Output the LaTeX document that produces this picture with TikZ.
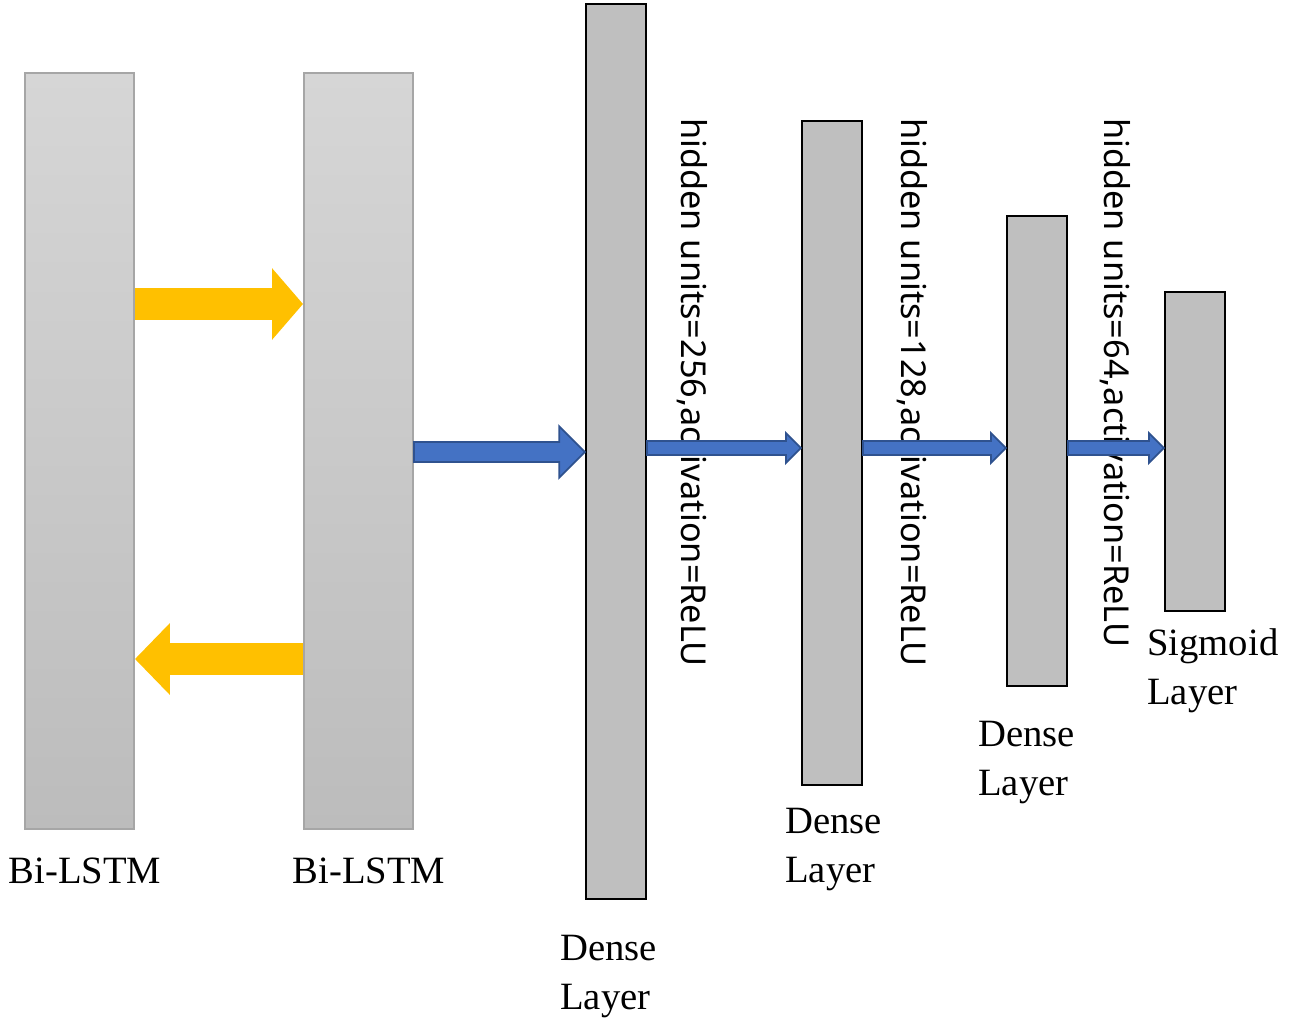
\documentclass[tikz,border=0pt]{standalone}
\usepackage{fontspec}
\setmainfont{Liberation Serif}
\newfontfamily\unitfont{Noto Sans}
\usetikzlibrary{positioning,calc}
\definecolor{lstmtop}{HTML}{D6D6D6}
\definecolor{lstmbot}{HTML}{BCBCBC}
\definecolor{lstmdraw}{HTML}{A6A6A6}
\definecolor{densefill}{HTML}{BFBFBF}
\definecolor{yarrow}{HTML}{FFC000}
\definecolor{barrow}{HTML}{4472C4}
\definecolor{bdraw}{HTML}{2F528F}
% block arrow: style, from, to, shaft half, head half, head length (pt)
\newcommand\blockarrow[6]{%
  \path[#1] let \p1=(#2), \p2=(#3), \n1={sign(\x2-\x1)} in
    (\x1,{\y1+#4}) -- ({\x2-\n1*#6},{\y1+#4}) -- ({\x2-\n1*#6},{\y1+#5})
    -- (\x2,\y1) -- ({\x2-\n1*#6},{\y1-#5}) -- ({\x2-\n1*#6},{\y1-#4})
    -- (\x1,{\y1-#4}) -- cycle;}
\begin{document}
\begin{tikzpicture}[x=0.02cm,y=-0.02cm,
lstm-node/.style = {rectangle,draw=lstmdraw,line width=1.2pt,top color=lstmtop,bottom color=lstmbot,minimum width=2.18cm},
dense-node/.style = {rectangle,draw=black,line width=1.2pt,fill=densefill,minimum width=1.2cm},
name-label/.style = {font=\fontsize{22}{28}\selectfont,align=left,inner sep=0pt},
unit-label/.style = {font=\unitfont\fontsize{19.5}{22}\selectfont,rotate=-90,anchor=west,inner sep=0pt},
yellow-arrow/.style = {fill=yarrow},
blue-arrow/.style = {fill=barrow,draw=bdraw,line width=1pt}
]
\useasboundingbox (0,0) rectangle (1292,1031);

\node [lstm-node,minimum height=15.12cm] (lstm1) at (79.5,451) {};
\node [lstm-node,minimum height=15.12cm] (lstm2) at (358.5,451) {};
\node [dense-node,minimum height=17.9cm] (dense1) at (616,451.5) {};
\node [dense-node,minimum height=13.28cm] (dense2) at (832,453) {};
\node [dense-node,minimum height=9.4cm] (dense3) at (1037,451) {};
\node [dense-node,minimum height=6.38cm] (sig) at (1195,451.5) {};

% rows of the arrows
\coordinate (fwd) at (0,304);
\coordinate (bwd) at (0,659);
\coordinate (mid) at (0,452);
\coordinate (low) at (0,448);

% labels
\node [unit-label] (u1) at (692,118) {hidden units=256,activation=ReLU};
\node [unit-label] (u2) at (912,118) {hidden units=128,activation=ReLU};
\node [unit-label] (u3) at (1115,118) {hidden units=64,activation=ReLU};
\node [name-label,anchor=north] at (85,858) {Bi-LSTM};
\node [name-label,anchor=north] at (369,858) {Bi-LSTM};
\node [name-label,anchor=north west] at (560,935) {Dense\\Layer};
\node [name-label,anchor=north west] at (785,808) {Dense\\Layer};
\node [name-label,anchor=north west] at (978,721) {Dense\\Layer};
\node [name-label,anchor=north west] at (1147,628) {Sigmoid\\Layer};

% arrows
\blockarrow{yellow-arrow}{lstm1.east |- fwd}{lstm2.west |- fwd}{9pt}{20.4pt}{17.6pt}
\blockarrow{yellow-arrow}{lstm2.west |- bwd}{lstm1.east |- bwd}{9pt}{20.4pt}{19.8pt}
\blockarrow{blue-arrow}{lstm2.east |- mid}{dense1.west |- mid}{5.7pt}{14.7pt}{14.7pt}
\blockarrow{blue-arrow}{dense1.east |- low}{dense2.west |- low}{4pt}{8.5pt}{8.5pt}
\blockarrow{blue-arrow}{dense2.east |- low}{dense3.west |- low}{4pt}{8.5pt}{8.5pt}
\blockarrow{blue-arrow}{dense3.east |- low}{sig.west |- low}{4pt}{8.5pt}{8.5pt}

\end{tikzpicture}
\end{document}
